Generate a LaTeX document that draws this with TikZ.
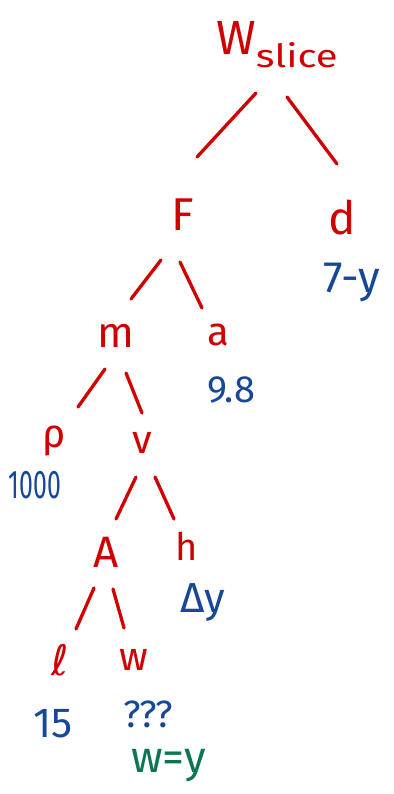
\documentclass[tikz,border=0pt]{standalone}
\usepackage{fontspec}
\setmainfont{Fira Sans}
\newfontfamily\dvs{DejaVu Sans}
\definecolor{inkred}{RGB}{208,0,0}
\definecolor{inkblue}{RGB}{22,72,150}
\definecolor{inkgreen}{RGB}{14,118,78}
\tikzset{
  lbl/.style={inner sep=0pt, anchor=base, text=inkred},
  val/.style={inner sep=0pt, anchor=base, text=inkblue},
  edge/.style={draw=inkred, line width=3.3pt, line cap=round}
}
\newcommand{\fs}[1]{\fontsize{#1}{#1}\selectfont}
\begin{document}
\begin{tikzpicture}[x=1pt,y=-1pt]
\useasboundingbox (0,0) rectangle (393,794);
% labels
\node[lbl, anchor=base west] (W) at (216,55) {\fs{48}W\fs{32}\raisebox{-13pt}{\scalebox{1.25}[1]{slice}}};
\node[lbl] (F) at (183,230) {\fs{46}F};
\node[lbl] (d) at (342,234) {\fs{46}d};
\node[val] (dv) at (352,292) {\fs{44}7-y};
\node[lbl] (m) at (116,347) {\fs{43}m};
\node[lbl] (a) at (218,345) {\fs{40}a};
\node[val] (av) at (231,402) {\fs{38}9.8};
\node[lbl] (rho) at (54,447) {\fs{40}ρ};
\node[lbl] (v) at (142,453) {\fs{40}v};
\node[val] (rhov) at (35,498) {\fs{40}\scalebox{0.62}[1]{1000}};
\node[lbl] (A) at (106,567) {\fs{44}A};
\node[lbl] (h) at (187,560) {\fs{38}h};
\node[val] (hv) at (203,612) {\fs{42}Δy};
\node[lbl] (l) at (60,675) {\fs{42}\dvs ℓ};
\node[lbl] (w) at (134,670) {\fs{40}w};
\node[val] (lv) at (53,737) {\fs{42}15};
\node[val] (wv) at (148,727) {\fs{38}???};
\node[val, text=inkgreen] (wy) at (169,772) {\fs{44}w=y};
% connector ends
\coordinate (e1a) at (256,93);  \coordinate (e1b) at (197,157);
\coordinate (e2a) at (287,97);  \coordinate (e2b) at (337,164);
\coordinate (e3a) at (161,260); \coordinate (e3b) at (131,299);
\coordinate (e4a) at (180,262); \coordinate (e4b) at (202,308);
\coordinate (e5a) at (105,369); \coordinate (e5b) at (78,407);
\coordinate (e6a) at (126,373); \coordinate (e6b) at (142,413);
\coordinate (e7a) at (136,477); \coordinate (e7b) at (116,519);
\coordinate (e8a) at (155,477); \coordinate (e8b) at (174,519);
\coordinate (e9a) at (94,588);  \coordinate (e9b) at (76,629);
\coordinate (e10a) at (113,589); \coordinate (e10b) at (124,628);
\foreach \i in {1,...,10} {\draw[edge] (e\i a) -- (e\i b);}
\end{tikzpicture}
\end{document}
